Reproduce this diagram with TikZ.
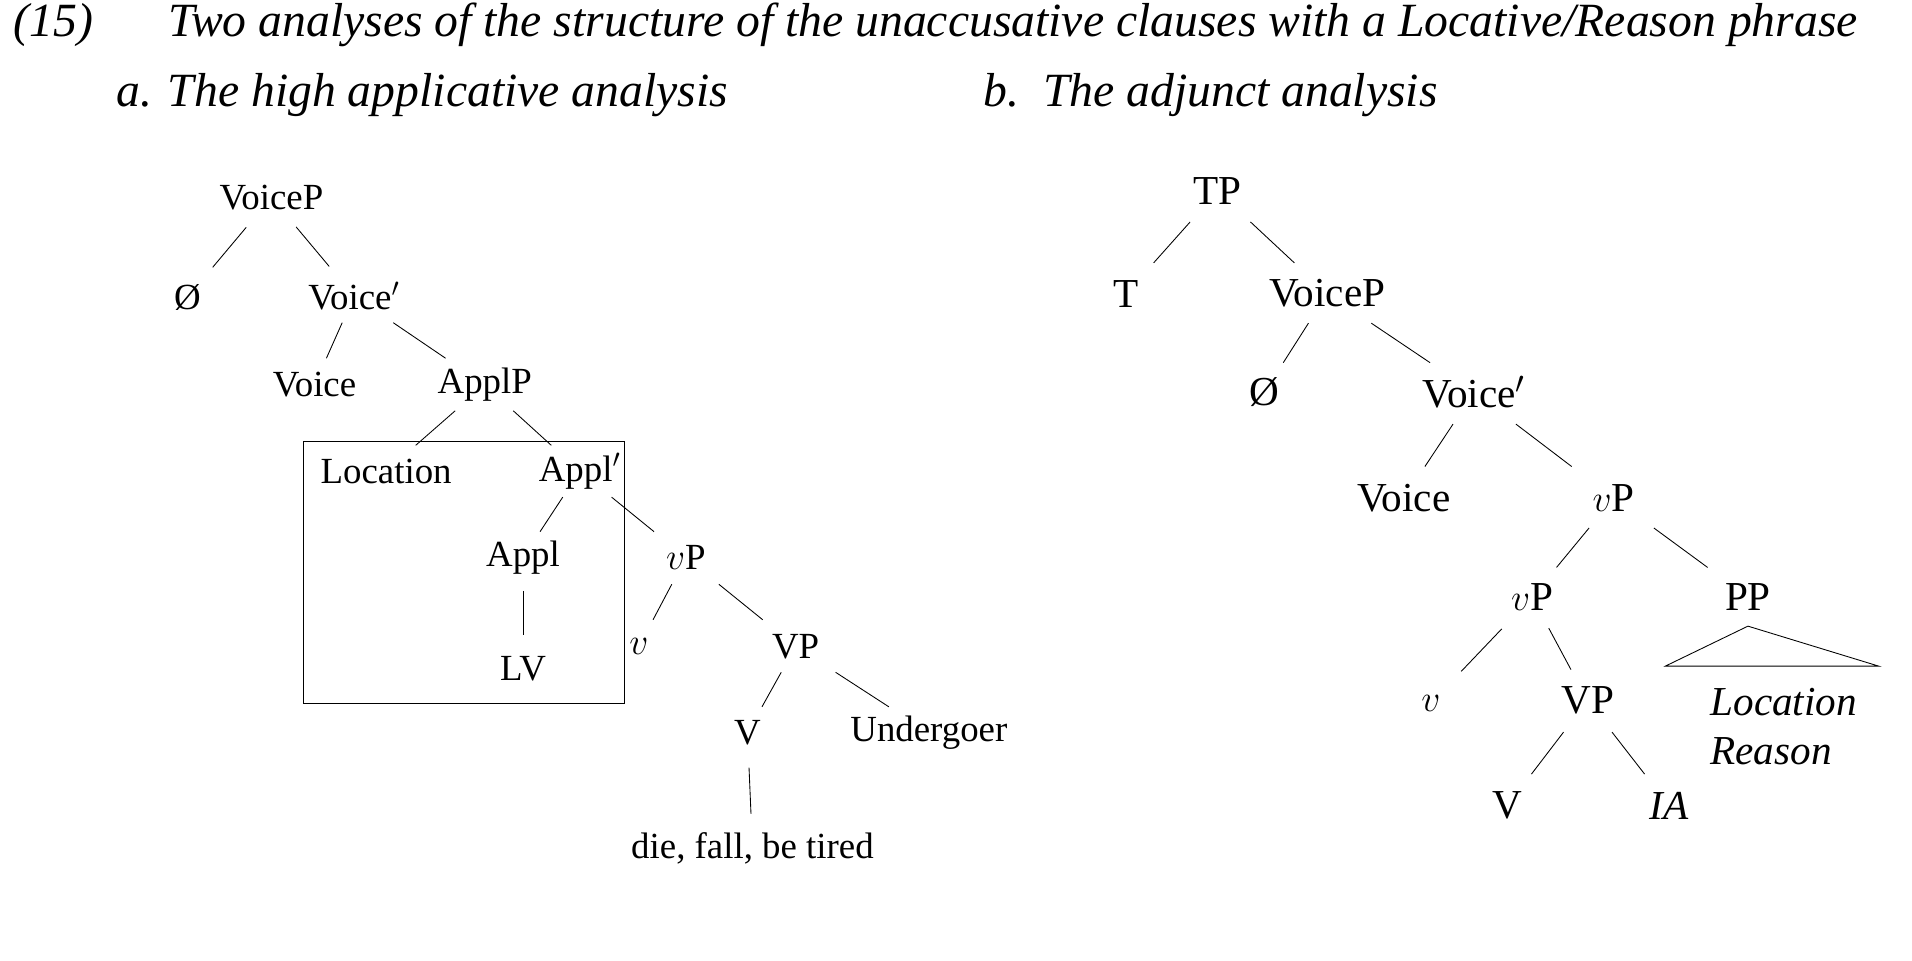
\documentclass[tikz,border=0pt]{standalone}
\usepackage{fontspec}
\setmainfont{Liberation Serif}
\usetikzlibrary{calc}
\begin{document}
\begin{tikzpicture}[x=0.02cm,y=-0.02cm]
    \tikzset{lbl/.style={inner sep=1pt,font=\fontsize{17}{19}\selectfont},
      lblb/.style={inner sep=1pt,font=\fontsize{19}{21}\selectfont},
      ttl/.style={anchor=west,font=\fontsize{22}{25}\selectfont\itshape}}
    \newcommand{\br}[2]{\draw ($(#1)!0.3!(#2)$) -- ($(#1)!0.7!(#2)$);}
    \useasboundingbox (0,0) rectangle (1550,779);
    % title
    \node[ttl] (num) at (5,20) {(15)};
    \node[ttl] (title) at (130,20) {Two analyses of the structure of the unaccusative clauses with a Locative/Reason phrase};
    \node[ttl] (ta) at (88,77) {a. The high applicative analysis};
    \node[ttl] (tb) at (791,77) {b.\ \ The adjunct analysis};
    % tree a
    \node[lbl] (aVoiceP) at (220,160) {VoiceP};
    \node[lbl] (aNull) at (152,241) {\O};
    \node[lbl] (aVoiceb) at (287,240) {Voice$'$};
    \node[lbl] (aVoice) at (255,312) {Voice};
    \node[lbl] (aApplP) at (393,312) {ApplP};
    \node[lbl] (aLoc) at (313,382) {Location};
    \node[lbl] (aApplb) at (470,382) {Appl$'$};
    \node[lbl] (aAppl) at (424,452) {Appl};
    \node[lbl] (aLV) at (424,542) {LV};
    \node[lbl] (avP) at (556,452) {$v$P};
    \node[lbl] (av) at (518,524) {$v$};
    \node[lbl] (aVP) at (645,524) {VP};
    \node[lbl] (aV) at (606,594) {V};
    \node[lbl] (aUnd) at (753,594) {Undergoer};
    \node[lbl] (aVerb) at (610,688) {die, fall, be tired};
    \br{aVoiceP}{aNull}
    \br{aVoiceP}{aVoiceb}
    \br{aVoiceb}{aVoice}
    \br{aVoiceb}{aApplP}
    \br{aApplP}{aLoc}
    \br{aApplP}{aApplb}
    \br{aApplb}{aAppl}
    \br{aApplb}{avP}
    \br{aAppl}{aLV}
    \br{avP}{av}
    \br{avP}{aVP}
    \br{aVP}{aV}
    \br{aVP}{aUnd}
    \br{aV}{aVerb}
    \draw (246,358) rectangle (506,570);
    % tree b
    \node[lblb] (bTP) at (987,155) {TP};
    \node[lblb] (bT) at (913,238) {T};
    \node[lblb] (bVoiceP) at (1076,238) {VoiceP};
    \node[lblb] (bNull) at (1025,318) {\O};
    \node[lblb] (bVoiceb) at (1195,318) {Voice$'$};
    \node[lblb] (bVoice) at (1138,404) {Voice};
    \node[lblb] (bvP) at (1308,404) {$v$P};
    \node[lblb] (bvPl) at (1242,484) {$v$P};
    \node[lblb] (bPP) at (1417,484) {PP};
    \node[lblb] (bv) at (1160,570) {$v$};
    \node[lblb] (bVP) at (1287,568) {VP};
    \node[lblb,align=left,font=\fontsize{19}{23}\selectfont\itshape] (bLoc) at (1446,589) {Location\\Reason};
    \node[lblb] (bV) at (1222,653) {V};
    \node[lblb,font=\fontsize{19}{21}\selectfont\itshape] (bIA) at (1353,653) {IA};
    \br{bTP}{bT}
    \br{bTP}{bVoiceP}
    \br{bVoiceP}{bNull}
    \br{bVoiceP}{bVoiceb}
    \br{bVoiceb}{bVoice}
    \br{bVoiceb}{bvP}
    \br{bvP}{bvPl}
    \br{bvP}{bPP}
    \br{bvPl}{bv}
    \br{bvPl}{bVP}
    \br{bVP}{bV}
    \br{bVP}{bIA}
    \draw ([yshift=-6pt]bPP.south) -- (1523,540) -- (1350,540) -- cycle;
\end{tikzpicture}
\end{document}
